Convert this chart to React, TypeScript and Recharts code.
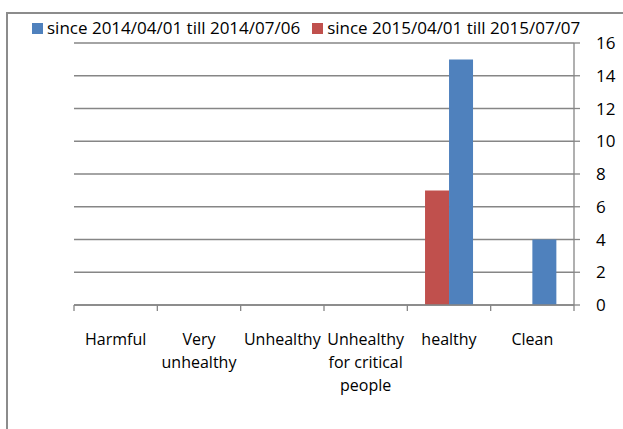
import React from "react";
import { BarChart, Bar, XAxis, YAxis, CartesianGrid, Text } from "recharts";

// Air-quality category counts for two spring periods
const categories = [
  "Harmful",
  "Very unhealthy",
  "Unhealthy",
  "Unhealthy for critical people",
  "healthy",
  "Clean",
];
const period2014 = [0, 0, 0, 0, 15, 4];
const period2015 = [0, 0, 0, 0, 7, 0];
const seriesNames = ["since 2014/04/01 till 2014/07/06", "since 2015/04/01 till 2015/07/07"];
const yTicks = [0, 2, 4, 6, 8, 10, 12, 14, 16];

const BLUE = "#4F81BD";
const RED = "#C0504D";
const GRID = "#868686";
const FONT = "'Open Sans', sans-serif";

const data = categories.map((name, i) => ({
  name,
  p2014: period2014[i],
  p2015: period2015[i],
}));

const W = 623;
const H = 429;
const PLOT_LEFT = 74;
const PLOT_RIGHT = 574;
const PLOT_TOP = 43;
const PLOT_BOTTOM = 305;
const BAND = (PLOT_RIGHT - PLOT_LEFT) / categories.length;

// Category label with wrapping plus boundary tick marks (Excel style)
const CategoryTick = (props: any) => {
  const { x, payload, index } = props;
  const half = BAND / 2;
  const axisY = PLOT_BOTTOM;
  const isLast = index === categories.length - 1;
  return (
    <g>
      <line x1={x - half} y1={axisY} x2={x - half} y2={axisY + 6} stroke={GRID} strokeWidth={1.3} />
      {isLast && (
        <line x1={x + half} y1={axisY} x2={x + half} y2={axisY + 6} stroke={GRID} strokeWidth={1.3} />
      )}
      <Text
        x={x}
        y={axisY + 29}
        width={BAND}
        textAnchor="middle"
        verticalAnchor="start"
        lineHeight={23}
        style={{ fontFamily: FONT, fontSize: 16, fill: "#000" }}
      >
        {payload.value}
      </Text>
    </g>
  );
};

const legendItems = [
  { name: seriesNames[0], color: BLUE },
  { name: seriesNames[1], color: RED },
];

export default function App() {
  return (
    <div
      style={{
        position: "absolute",
        left: 0,
        top: 0,
        width: W,
        height: H,
        overflow: "hidden",
        background: "#fff",
        fontFamily: FONT,
      }}
    >
      {/* chart frame */}
      <div
        style={{
          position: "absolute",
          left: 6,
          top: 12,
          width: 800,
          height: 600,
          borderLeft: "2px solid #8c8c8c",
          borderTop: "2px solid #8c8c8c",
        }}
      />
      {/* legend */}
      <div
        style={{
          position: "absolute",
          left: 32,
          top: 17,
          display: "flex",
          alignItems: "center",
          fontSize: 17,
          color: "#000",
          whiteSpace: "nowrap",
          lineHeight: "22px",
        }}
      >
        {legendItems.map((item, i) => (
          <div key={i} style={{ display: "flex", alignItems: "center", marginRight: 12 }}>
            <span
              style={{
                display: "inline-block",
                width: 11,
                height: 11,
                background: item.color,
                marginRight: 4,
              }}
            />
            <span>{item.name}</span>
          </div>
        ))}
      </div>
      <div style={{ position: "absolute", left: 0, top: 0 }}>
        <BarChart
          width={W}
          height={H}
          data={data}
          margin={{ top: PLOT_TOP, left: PLOT_LEFT, right: 0, bottom: 0 }}
          barCategoryGap={17.7}
          barGap={0}
        >
          <CartesianGrid horizontal vertical={false} stroke={GRID} strokeWidth={1.3} />
          <XAxis
            dataKey="name"
            height={H - PLOT_BOTTOM}
            axisLine={{ stroke: GRID, strokeWidth: 1.3 }}
            tickLine={false}
            tick={<CategoryTick />}
            interval={0}
          />
          <YAxis
            orientation="right"
            width={W - PLOT_RIGHT}
            domain={[0, 16]}
            ticks={yTicks}
            axisLine={{ stroke: GRID, strokeWidth: 1.3 }}
            tickLine={{ stroke: GRID, strokeWidth: 1.3 }}
            tickSize={6}
            tickMargin={16}
            tick={{ fontFamily: FONT, fontSize: 17, fill: "#000", textAnchor: "start" }}
          />
          <Bar dataKey="p2015" name={seriesNames[1]} fill={RED} isAnimationActive={false} />
          <Bar dataKey="p2014" name={seriesNames[0]} fill={BLUE} isAnimationActive={false} />
        </BarChart>
      </div>
    </div>
  );
}
